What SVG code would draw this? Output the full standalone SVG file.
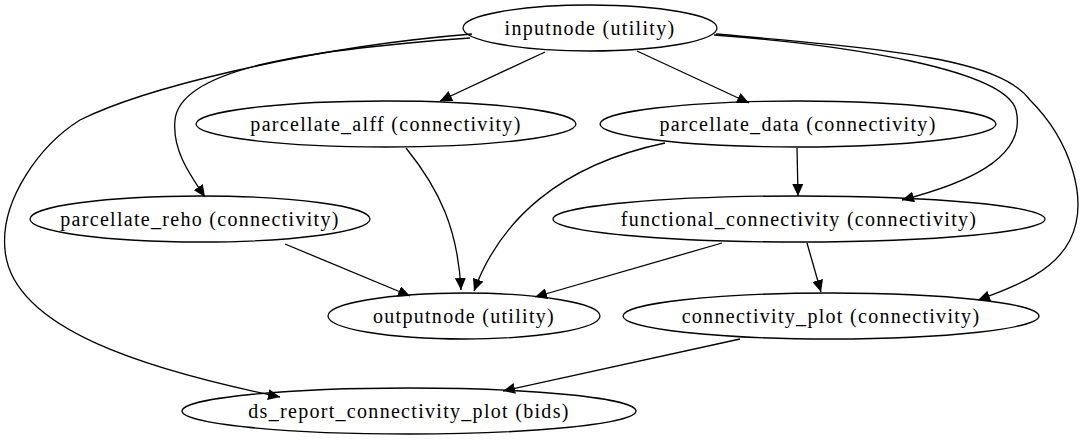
<svg xmlns="http://www.w3.org/2000/svg" width="1085" height="443" viewBox="0 0 1085 443">
<style>
.n ellipse{fill:none;stroke:#000;stroke-width:1.3}
.n text{font-family:"Liberation Serif","Times New Roman",serif;font-size:20px;letter-spacing:1.3px;text-anchor:middle;dominant-baseline:central}
#edges path{fill:none;stroke:#000;stroke-width:1.3;marker-end:url(#ah)}
</style>
<defs><marker id="ah" markerUnits="userSpaceOnUse" markerWidth="13" markerHeight="11" refX="12" refY="5.5" orient="auto"><path d="M0,0 L12,5.5 L0,11 Z" fill="#000"/></marker></defs>
<rect width="1085" height="443" fill="#fff"/>
<g id="edges">
<path d="M545,52 L440,101"/>
<path d="M637,51 L749,103"/>
<path d="M470,38 C300,50 180,70 175,120 C172,150 190,175 205,197"/>
<path d="M472,34 C300,48 140,90 80,120 C40,145 0,200 5,250 C12,330 150,370 280,397"/>
<path d="M714,35 C850,45 1005,70 1016,110 C1028,160 960,185 902,200"/>
<path d="M716,34 C900,50 1000,60 1030,100 C1070,140 1090,200 1070,240 C1055,270 1020,285 978,300"/>
<path d="M406,148 C440,190 458,230 461,290"/>
<path d="M665,143 C560,165 500,220 474,291"/>
<path d="M797,148 L798,196"/>
<path d="M285,244 L410,296"/>
<path d="M722,243 L535,297"/>
<path d="M807,243 L821,292"/>
<path d="M740,339 L503,391"/>
</g>
<g id="inputnode" class="n"><ellipse cx="590" cy="28" rx="127" ry="23"/><text x="590" y="28">inputnode (utility)</text></g>
<g id="parcellate_alff" class="n"><ellipse cx="386" cy="124" rx="190" ry="23"/><text x="386" y="124">parcellate_alff (connectivity)</text></g>
<g id="parcellate_data" class="n"><ellipse cx="798" cy="124" rx="198" ry="23"/><text x="798" y="124">parcellate_data (connectivity)</text></g>
<g id="parcellate_reho" class="n"><ellipse cx="200" cy="219" rx="170" ry="23"/><text x="200" y="219">parcellate_reho (connectivity)</text></g>
<g id="functional_connectivity" class="n"><ellipse cx="799" cy="219" rx="246" ry="23"/><text x="799" y="219">functional_connectivity (connectivity)</text></g>
<g id="outputnode" class="n"><ellipse cx="464" cy="316" rx="136" ry="23"/><text x="464" y="316">outputnode (utility)</text></g>
<g id="connectivity_plot" class="n"><ellipse cx="831" cy="316" rx="208" ry="23"/><text x="831" y="316">connectivity_plot (connectivity)</text></g>
<g id="ds_report_connectivity_plot" class="n"><ellipse cx="409" cy="411" rx="227" ry="23"/><text x="409" y="411">ds_report_connectivity_plot (bids)</text></g>
</svg>
